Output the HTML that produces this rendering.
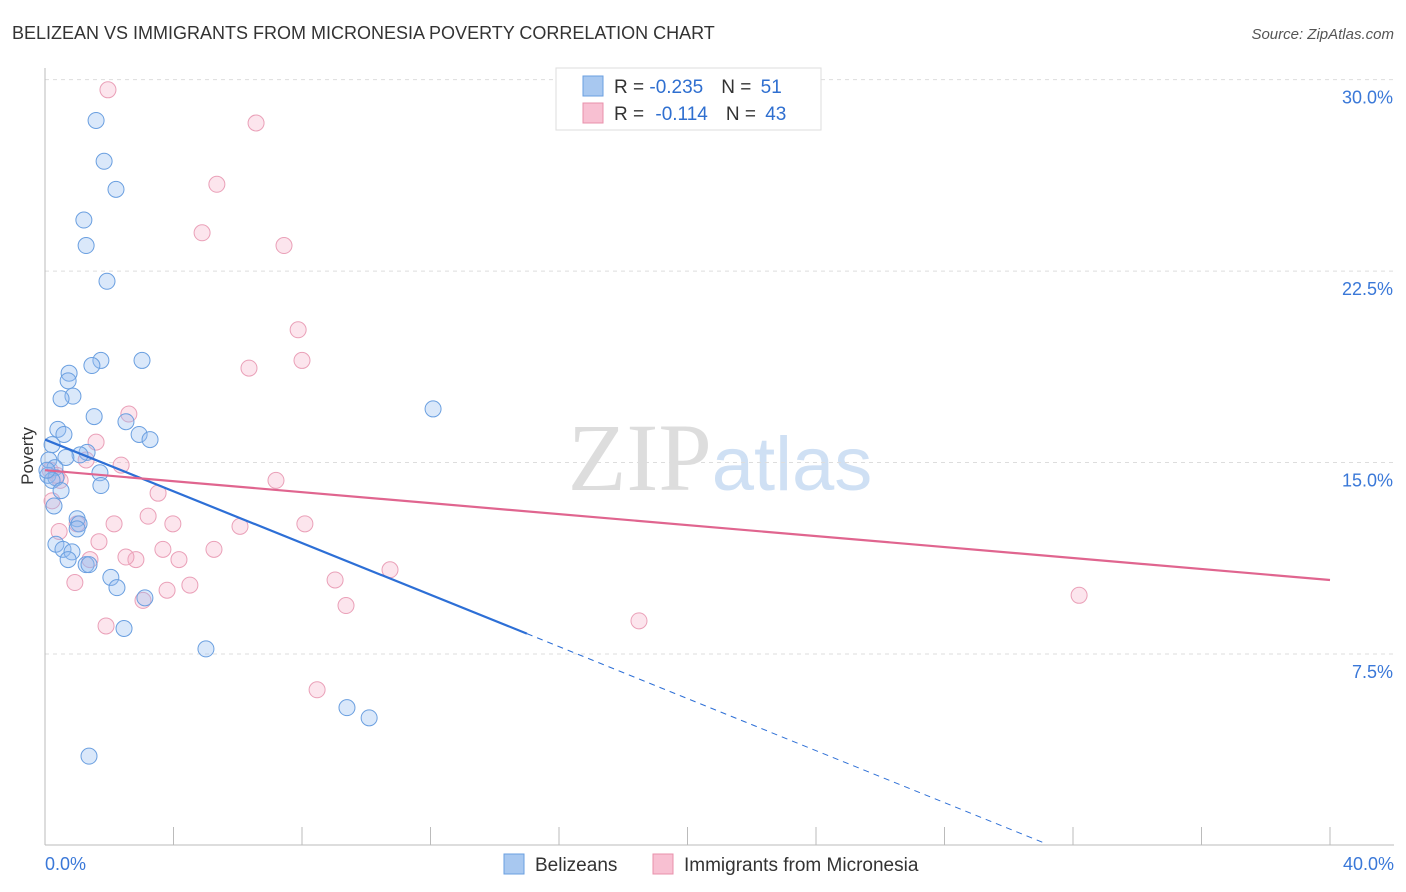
<!DOCTYPE html>
<html><head><meta charset="utf-8">
<style>
body{margin:0;background:#fff;font-family:"Liberation Sans",sans-serif;}
svg{display:block}
</style></head>
<body>
<svg id="chart" width="1406" height="892" xmlns="http://www.w3.org/2000/svg">
<text x="12" y="39" font-size="18" fill="#333" font-family="Liberation Sans, sans-serif">BELIZEAN VS IMMIGRANTS FROM MICRONESIA POVERTY CORRELATION CHART</text>
<text x="1394" y="39" font-size="15" fill="#555" text-anchor="end" font-style="italic">Source: ZipAtlas.com</text>
<text x="720" y="490" font-size="96" fill="#ddd" text-anchor="middle" font-family="Liberation Serif, serif">ZIP<tspan fill="#cfe0f4" font-family="Liberation Sans, sans-serif" font-size="76">atlas</tspan></text>
<g id="grid"></g>
<g id="axes"></g>
<g id="marks"></g>
<text transform="translate(33,456) rotate(-90)" font-size="17" fill="#333" text-anchor="middle">Poverty</text>
<g>
<rect x="556" y="68" width="265" height="62" fill="#fff" stroke="#ddd"/>
<rect x="583" y="76" width="20" height="20" fill="#a8c8f0" stroke="#6a9fe0"/>
<rect x="583" y="103" width="20" height="20" fill="#f8c0d2" stroke="#e890ab"/>
<text x="614" y="93" font-size="19" fill="#333">R = <tspan fill="#2f6fd0">-0.235</tspan><tspan dx="18">N = </tspan><tspan fill="#2f6fd0" dx="4">51</tspan></text>
<text x="614" y="120" font-size="19" fill="#333">R = <tspan fill="#2f6fd0" dx="6">-0.114</tspan><tspan dx="18">N = </tspan><tspan fill="#2f6fd0" dx="4">43</tspan></text>
</g>
<g>
<rect x="504" y="854" width="20" height="20" fill="#a8c8f0" stroke="#6a9fe0"/>
<text x="535" y="871" font-size="19" fill="#333">Belizeans</text>
<rect x="653" y="854" width="20" height="20" fill="#f8c0d2" stroke="#e890ab"/>
<text x="684" y="871" font-size="19" fill="#333">Immigrants from Micronesia</text>
</g>
</svg>
<script>
const yTicks=[7.5,15,22.5,30];
const yTickLabels=["7.5%","15.0%","22.5%","30.0%"];
const xTickVals=[0,4,8,12,16,20,24,28,32,36,40];
const blueX=[1.59,1.84,2.21,1.21,1.28,1.93,1.74,3.02,1.46,0.75,0.72,0.87,0.50,12.08,1.53,2.52,0.40,0.59,2.93,3.27,0.22,1.31,1.09,0.65,0.12,0.31,1.71,0.09,0.34,0.22,1.74,0.50,0.28,1.00,1.06,1.00,0.34,0.56,0.84,0.72,1.28,1.37,2.05,2.24,3.11,2.46,5.01,9.40,10.09,1.37,0.06];
const blueY=[28.4,26.8,25.7,24.5,23.5,22.1,19.0,19.0,18.8,18.5,18.2,17.6,17.5,17.1,16.8,16.6,16.3,16.1,16.1,15.9,15.7,15.4,15.3,15.2,15.1,14.8,14.6,14.5,14.4,14.3,14.1,13.9,13.3,12.8,12.6,12.4,11.8,11.6,11.5,11.2,11.0,11.0,10.5,10.1,9.7,8.5,7.7,5.4,5.0,3.5,14.7];
const pinkX=[1.96,6.57,5.35,4.89,7.44,7.88,8.00,6.35,2.61,1.59,1.28,2.37,0.47,7.19,3.52,0.22,3.21,3.98,2.15,8.09,6.07,0.44,1.00,1.68,5.26,3.67,2.83,2.52,1.40,4.17,0.93,4.51,3.80,9.03,10.74,3.05,9.37,1.90,18.49,32.19,8.47,0.16,0.37];
const pinkY=[29.6,28.3,25.9,24.0,23.5,20.2,19.0,18.7,16.9,15.8,15.1,14.9,14.3,14.3,13.8,13.5,12.9,12.6,12.6,12.6,12.5,12.3,12.6,11.9,11.6,11.6,11.2,11.3,11.2,11.2,10.3,10.2,10.0,10.4,10.8,9.6,9.4,8.6,8.8,9.8,6.1,14.7,14.5];
const blueTrend=[15.9,8.3,0.1]; // y at x=0, x=15, x=31.1
const blueTrendX=[0,15,31.1];
const pinkTrend=[14.7,10.4];
const pinkTrendX=[0,40];

const X=v=>45+v*32.125;
const Y=v=>845.5-v*25.53;
const NS="http://www.w3.org/2000/svg";
function mk(parent,tag,attrs){const e=document.createElementNS(NS,tag);for(const k in attrs)e.setAttribute(k,attrs[k]);document.getElementById(parent).appendChild(e);return e;}
yTicks.forEach((t,i)=>{
  const l=mk('grid','line',{x1:45,x2:1394,y1:Y(t),y2:Y(t),stroke:'#ddd','stroke-dasharray':'4,4'});
  
  
  const tx=mk('grid','text',{x:1393,y:Y(t)+24,'font-size':18,fill:'#3a78d8','text-anchor':'end'});
  tx.textContent=yTickLabels[i];
  
  
});
const ax=mk('axes','line',{x1:45,x2:45,y1:68,y2:845,stroke:'#bbb'});


const bx=mk('axes','line',{x1:45,x2:1394,y1:845,y2:845,stroke:'#bbb'});


xTickVals.forEach(v=>{
  const t=mk('axes','line',{x1:X(v),x2:X(v),y1:827,y2:845,stroke:'#bbb'});
  
  
});
const xl0=mk('axes','text',{x:45,y:870,'font-size':18,fill:'#3a78d8'});xl0.textContent=xTickVals[0].toFixed(1)+'%';


const xl1=mk('axes','text',{x:1394,y:870,'font-size':18,fill:'#3a78d8','text-anchor':'end'});xl1.textContent=xTickVals[xTickVals.length-1].toFixed(1)+'%';



pinkX.forEach((v,i)=>{
  const c=mk('marks','circle',{cx:X(v),cy:Y(pinkY[i]),r:8,fill:'rgba(245,170,195,0.3)',stroke:'#eaa0b8','stroke-width':1});
  
  
});
blueX.forEach((v,i)=>{
  const c=mk('marks','circle',{cx:X(v),cy:Y(blueY[i]),r:8,fill:'rgba(150,190,240,0.35)',stroke:'#6a9fe0','stroke-width':1});
  
  
});
const bl=mk('marks','line',{x1:X(blueTrendX[0]),y1:Y(blueTrend[0]),x2:X(blueTrendX[1]),y2:Y(blueTrend[1]),stroke:'#2d6fd6','stroke-width':2.2});


const bd=mk('marks','line',{x1:X(blueTrendX[1]),y1:Y(blueTrend[1]),x2:X(blueTrendX[2]),y2:Y(blueTrend[2]),stroke:'#2d6fd6','stroke-width':1,'stroke-dasharray':'6,5'});


const pl=mk('marks','line',{x1:X(pinkTrendX[0]),y1:Y(pinkTrend[0]),x2:X(pinkTrendX[1]),y2:Y(pinkTrend[1]),stroke:'#e0658f','stroke-width':2.2});


</script>
</body></html>
